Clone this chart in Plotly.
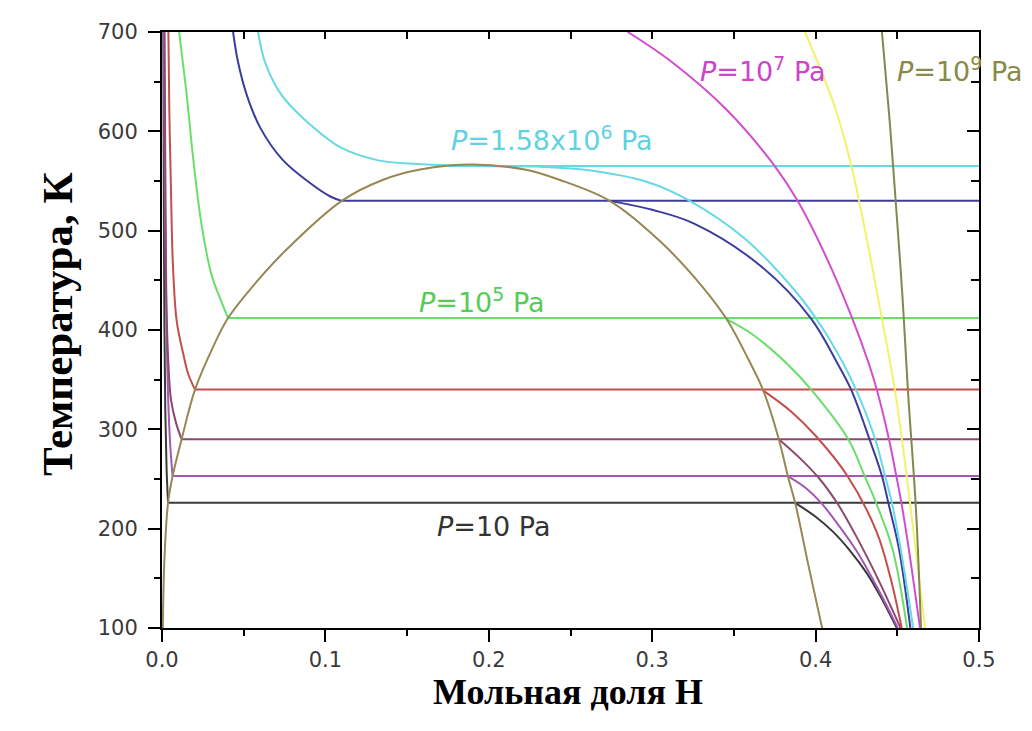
import plotly.graph_objects as go

# ---------------- axes ----------------
X_RANGE = [0.0, 0.5]
T_RANGE = [100, 700]
X_TICKS = [0.0, 0.1, 0.2, 0.3, 0.4, 0.5]
T_TICKS = [100, 200, 300, 400, 500, 600, 700]
X_TITLE = "Мольная доля H"
Y_TITLE = "Температура, К"

# ---------------- miscibility dome ----------------
DOME_X = [0.0005, 0.0015, 0.0037, 0.0065, 0.012, 0.0202, 0.031, 0.0404, 0.055,
          0.075, 0.110, 0.135, 0.158, 0.19, 0.222, 0.2436, 0.274, 0.305, 0.33, 0.3455,
          0.359, 0.368, 0.3775, 0.383, 0.3875, 0.396, 0.404]
DOME_T = [100, 170, 226, 253, 290, 340, 382, 412, 443,
          479, 530, 551, 561.5, 566.5, 561.5, 551, 530, 489, 445, 411,
          370, 339, 290, 253, 226, 160, 100]

# ---------------- P = 10 Pa (black) ----------------
P10_LEFT_X = [0.0008, 0.001, 0.0012, 0.0015, 0.002, 0.0028, 0.0037]
P10_LEFT_T = [700, 600, 500, 400, 320, 260, 226]
P10_PLATEAU_T = 226
P10_RIGHT_X = [0.3875, 0.400, 0.4106, 0.421, 0.431, 0.440, 0.4497]
P10_RIGHT_T = [226, 212, 197, 178, 156, 131, 100]

# ---------------- isobar at 253 K (violet) ----------------
PV_LEFT_X = [0.0012, 0.0015, 0.002, 0.0028, 0.004, 0.0052, 0.0065]
PV_LEFT_T = [700, 600, 500, 400, 320, 280, 253]
PV_PLATEAU_T = 253
PV_RIGHT_X = [0.383, 0.394, 0.4034, 0.4147, 0.4253, 0.4396, 0.4503]
PV_RIGHT_T = [253, 241, 226, 202, 177, 135, 100]

# ---------------- isobar at 290 K (plum) ----------------
PM_LEFT_X = [0.0016, 0.0019, 0.0023, 0.0028, 0.0038, 0.0055, 0.0085, 0.012]
PM_LEFT_T = [700, 600, 500, 420, 370, 330, 307, 290]
PM_PLATEAU_T = 290
PM_RIGHT_X = [0.3775, 0.391, 0.4025, 0.4135, 0.424, 0.438, 0.452]
PM_RIGHT_T = [290, 270, 250, 225, 195, 150, 100]

# ---------------- isobar at 340 K (red) ----------------
PR_LEFT_X = [0.0039, 0.0045, 0.0055, 0.0067, 0.009, 0.013, 0.016, 0.0202]
PR_LEFT_T = [700, 620, 540, 465, 409, 376, 356, 340]
PR_PLATEAU_T = 340
PR_RIGHT_X = [0.368, 0.385, 0.4003, 0.4195, 0.4373, 0.4459, 0.4527]
PR_RIGHT_T = [339, 318, 293, 253, 197, 150, 100]

# ---------------- P = 1e5 Pa (green) ----------------
P1E5_LEFT_X = [0.0105, 0.0127, 0.0151, 0.0192, 0.0243, 0.0304, 0.0355, 0.0404]
P1E5_LEFT_T = [700, 670, 637, 571, 505, 455, 432, 412]
P1E5_PLATEAU_T = 412
P1E5_RIGHT_X = [0.3455, 0.361, 0.3825, 0.3978, 0.420, 0.430, 0.437, 0.447, 0.456]
P1E5_RIGHT_T = [411, 396, 366, 339, 290, 253, 226, 180, 100]

# ---------------- isobar at 530 K (navy) ----------------
PB_LEFT_X = [0.0435, 0.0465, 0.0518, 0.060, 0.074, 0.0906, 0.103, 0.110]
PB_LEFT_T = [700, 670, 637, 604, 571, 548, 534.4, 530]
PB_PLATEAU_T = 530
PB_RIGHT_X = [0.274, 0.300, 0.325, 0.366, 0.397, 0.4135, 0.422, 0.433, 0.4406, 0.4445, 0.451, 0.458]
PB_RIGHT_T = [530, 521, 507.6, 465, 412, 366, 339, 290, 253, 226, 180, 100]

# ---------------- P = 1.58e6 Pa (cyan, critical) ----------------
PC_CURVE_X = [0.0588, 0.063, 0.073, 0.0926, 0.109, 0.1316, 0.156, 0.19, 0.23, 0.26, 0.297,
              0.323, 0.3566, 0.3882, 0.4030, 0.4170, 0.425, 0.4365, 0.4425, 0.4467, 0.452, 0.4597]
PC_CURVE_T = [700, 670, 637, 604, 584, 571, 567, 565, 564.5, 561, 549,
              530, 492, 438, 405, 366, 339, 290, 253, 226, 180, 100]
PC_PLATEAU_X0 = 0.176
PC_PLATEAU_T = 565

# ---------------- P = 1e7 Pa (magenta) ----------------
P1E7_X = [0.285, 0.311, 0.346, 0.375, 0.389, 0.4070, 0.4226, 0.4326, 0.4376, 0.4449, 0.4494, 0.4525, 0.4570, 0.4639]
P1E7_T = [700, 671, 621, 565, 530, 471.6, 411, 366, 339, 290, 253, 226, 180, 100]

# ---------------- yellow isobar ----------------
PY_X = [0.3935, 0.4119, 0.4219, 0.4333, 0.4406, 0.4486, 0.4578, 0.4670]
PY_T = [700, 624, 565, 475, 411, 339, 226, 100]

# ---------------- P = 1e9 Pa (olive) ----------------
P1E9_X = [0.4406, 0.4451, 0.449, 0.4531, 0.4565, 0.4614, 0.4645]
P1E9_T = [700, 615, 530, 435, 339, 220, 100]

# ---------------- colours ----------------
C_DOME = "#968754"
C_BLACK = "#3a3a3a"
C_VIOLET = "#a258b4"
C_PLUM = "#8c4a6c"
C_RED = "#c24f4b"
C_GREEN = "#6ade6a"
C_NAVY = "#3c3c9c"
C_CYAN = "#66d9e4"
C_MAGENTA = "#d04ed0"
C_YELLOW = "#f2f26a"
C_OLIVE = "#86864f"

LW = 2
fig = go.Figure()


def add_line(x, y, color, shape="spline"):
    fig.add_trace(go.Scatter(x=x, y=y, mode="lines",
                             line=dict(color=color, width=LW, shape=shape, smoothing=1.0),
                             hoverinfo="skip", showlegend=False))


plateau_isobars = [
    (P10_LEFT_X, P10_LEFT_T, P10_PLATEAU_T, P10_RIGHT_X, P10_RIGHT_T, C_BLACK),
    (PV_LEFT_X, PV_LEFT_T, PV_PLATEAU_T, PV_RIGHT_X, PV_RIGHT_T, C_VIOLET),
    (PM_LEFT_X, PM_LEFT_T, PM_PLATEAU_T, PM_RIGHT_X, PM_RIGHT_T, C_PLUM),
    (PR_LEFT_X, PR_LEFT_T, PR_PLATEAU_T, PR_RIGHT_X, PR_RIGHT_T, C_RED),
    (P1E5_LEFT_X, P1E5_LEFT_T, P1E5_PLATEAU_T, P1E5_RIGHT_X, P1E5_RIGHT_T, C_GREEN),
    (PB_LEFT_X, PB_LEFT_T, PB_PLATEAU_T, PB_RIGHT_X, PB_RIGHT_T, C_NAVY),
]

for lx, lt, pt, rx, rt, col in plateau_isobars:
    add_line(lx, lt, col)
    add_line([lx[-1], X_RANGE[1]], [pt, pt], col, shape="linear")
    add_line(rx, rt, col)

# cyan critical isobar
add_line(PC_CURVE_X, PC_CURVE_T, C_CYAN)
add_line([PC_PLATEAU_X0, X_RANGE[1]], [PC_PLATEAU_T, PC_PLATEAU_T], C_CYAN, shape="linear")

# supercritical isobars
add_line(P1E7_X, P1E7_T, C_MAGENTA)
add_line(PY_X, PY_T, C_YELLOW)
add_line(P1E9_X, P1E9_T, C_OLIVE)

# dome
add_line(DOME_X, DOME_T, C_DOME)

# invisible anchor trace for the mirrored (inside-tick) axes
fig.add_trace(go.Scatter(x=[None], y=[None], xaxis="x2", yaxis="y2", mode="lines",
                         showlegend=False, hoverinfo="skip"))

LABEL_FONT = "DejaVu Sans"
labels = [
    ("<i>P</i>=10 Pa", 0.2026, 202, "#333333"),
    ("<i>P</i>=10<sup>5</sup> Pa", 0.196, 430, "#55cc55"),
    ("<i>P</i>=1.58x10<sup>6</sup> Pa", 0.2387, 593, "#5fd3df"),
    ("<i>P</i>=10<sup>7</sup> Pa", 0.3678, 662, "#cc44cc"),
    ("<i>P</i>=10<sup>9</sup> Pa", 0.4884, 662, "#8a8a48"),
]
for txt, lx, ly, col in labels:
    fig.add_annotation(x=lx, y=ly, xref="x", yref="y", text=txt, showarrow=False,
                       font=dict(family=LABEL_FONT, size=27, color=col),
                       xanchor="center", yanchor="middle")

# axis titles
fig.add_annotation(x=0.497, y=-0.108, xref="paper", yref="paper", text="<b>" + X_TITLE + "</b>",
                   showarrow=False, font=dict(family="Liberation Serif", size=36, color="black"),
                   xanchor="center", yanchor="middle")
fig.add_annotation(x=-0.1285, y=0.51, xref="paper", yref="paper", text="<b>" + Y_TITLE + "</b>",
                   textangle=-90, showarrow=False,
                   font=dict(family="Liberation Serif", size=43, color="black"),
                   xanchor="center", yanchor="middle")

tickfont = dict(family="DejaVu Sans", size=21, color="#3a3a3a")
axis_common = dict(showgrid=False, zeroline=False, showline=True, linecolor="black",
                   linewidth=2, mirror=True, tickcolor="black", tickwidth=2)

fig.update_layout(
    width=1024, height=723,
    margin=dict(l=154, r=53, t=16, b=103),
    paper_bgcolor="white", plot_bgcolor="white",
    showlegend=False,
    xaxis=dict(range=X_RANGE, tickvals=X_TICKS, tickformat=".1f", ticks="outside",
               ticklen=12, tickfont=tickfont, ticklabelstandoff=0,
               minor=dict(dtick=0.05, ticks="outside", ticklen=6, tickwidth=2, tickcolor="black"),
               **axis_common),
    yaxis=dict(range=T_RANGE, tickvals=T_TICKS, ticks="outside", ticklen=12,
               tickfont=tickfont, ticklabelstandoff=6,
               minor=dict(dtick=50, ticks="outside", ticklen=6, tickwidth=2, tickcolor="black"),
               **axis_common),
    xaxis2=dict(range=X_RANGE, overlaying="x", side="top", anchor="y2",
                tickvals=X_TICKS, ticks="inside", ticklen=7, tickwidth=2, tickcolor="black",
                showticklabels=False, showgrid=False, zeroline=False, showline=False,
                minor=dict(dtick=0.05, ticks="inside", ticklen=7, tickwidth=2, tickcolor="black")),
    yaxis2=dict(range=T_RANGE, overlaying="y", side="right", anchor="x2",
                tickvals=T_TICKS, ticks="inside", ticklen=12, tickwidth=2, tickcolor="black",
                showticklabels=False, showgrid=False, zeroline=False, showline=False,
                minor=dict(dtick=50, ticks="inside", ticklen=8, tickwidth=2, tickcolor="black")),
)

fig.write_html("out.html")
